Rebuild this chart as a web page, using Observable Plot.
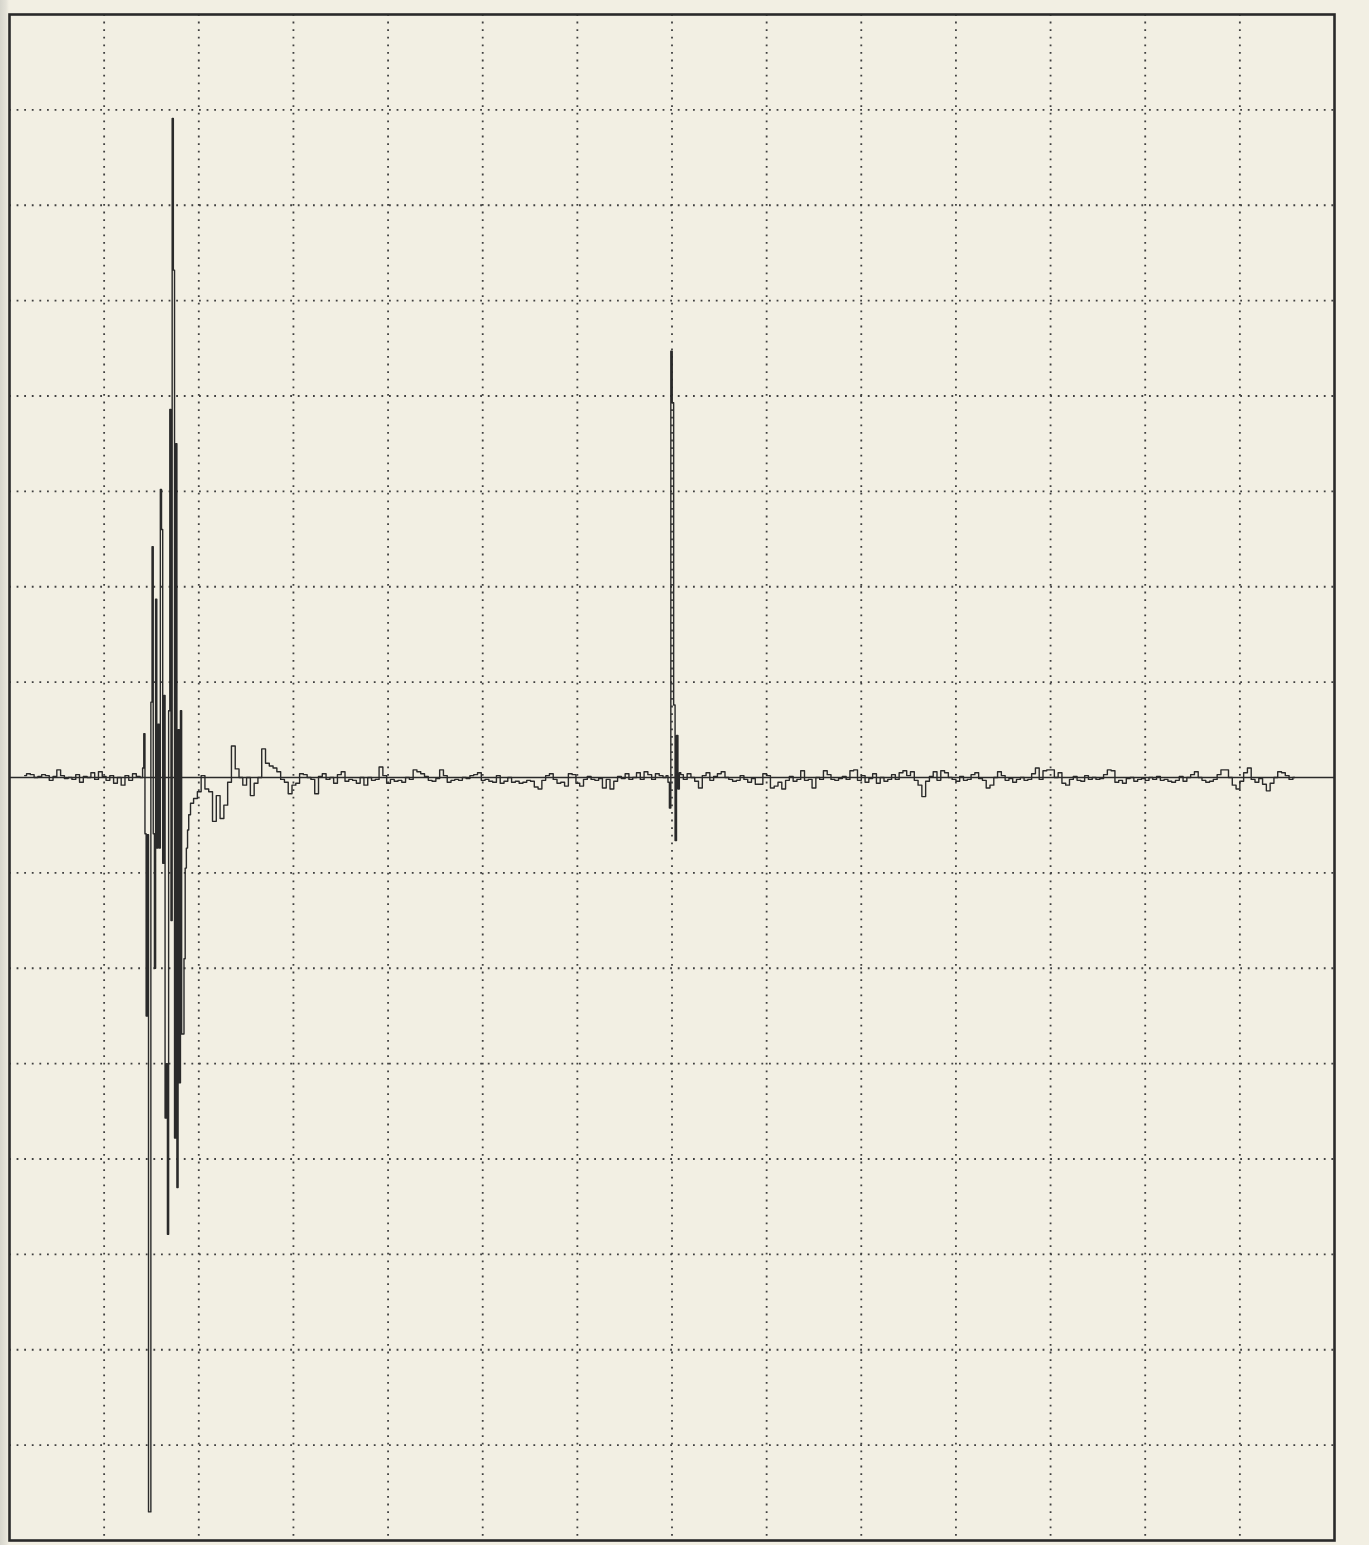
<!DOCTYPE html>
<html>
<head>
<meta charset="utf-8">
<script src="https://cdn.jsdelivr.net/npm/d3@7"></script>
<script src="https://cdn.jsdelivr.net/npm/@observablehq/plot@0.6"></script>
<style>
  html, body { margin: 0; padding: 0; background: #f2efe3; }
  #chart svg { display: block; }
</style>
</head>
<body>
<div id="chart"></div>
<script>
// Grid divisions (chart units: 14 horizontal divisions, 16 vertical divisions, zero in the middle)
const xGrid = [1, 2, 3, 4, 5, 6, 7, 8, 9, 10, 11, 12, 13];
const yGrid = [-7, -6, -5, -4, -3, -2, -1, 1, 2, 3, 4, 5, 6, 7];

// Trace in segments (start, sampling step, values in divisions)
const preStart = 0.16, preStep = 0.04;
const preValues = [0.02, 0.04, 0.03, 0.0, 0.01, 0.03, 0.02, -0.03, 0.01, 0.08,
  0.02, -0.01, 0.0, -0.02, 0.03, -0.05, 0.01, 0.0, 0.05, -0.02,
  0.06, 0.01, -0.03, 0.02, -0.06, 0.0, -0.08, 0.02, -0.03, 0.04, 0.01];

const burstStart = 1.40, burstStep = 0.0125;
const burstValues = [0.0, 0.1, 0.46, -0.59, -2.5, -0.6, -7.70, -7.70, 0.79, 2.42,
  -0.59, -2.0, 1.87, -0.74, 0.56, -0.74, 3.02, 2.6, -0.9, 0.86,
  -3.57, -3.0, -4.79, 0.7, 3.86, -1.5, 6.91, 5.32, -3.78, 3.5,
  -4.30, 0.5, -3.2, 0.7, -2.69, -2.69, -1.9, -0.95, -0.74, -0.55, -0.39];

const postStart = 1.925, postStep = 0.04;
const postValues = [
  -0.27, -0.22, -0.15, 0.02, -0.12, -0.15, -0.46, -0.19, -0.43, -0.29,
  -0.05, 0.33, 0.09, 0.0, -0.08, 0.0, -0.19, -0.06, 0.0, 0.30,
  0.15, 0.12, 0.10, 0.06, -0.02, -0.05, -0.17, -0.08, -0.06, 0.04,
  0.03, 0.0, -0.02, -0.17, 0.01, 0.04, -0.02, 0.0, -0.06, 0.03,
  0.06, -0.04, -0.02, -0.03, -0.06, 0.0, -0.08, 0.0, -0.03, -0.02,
  0.11, 0.02, -0.06, -0.02, -0.04, -0.03, -0.05, 0.0, -0.02, 0.08,
  0.06, 0.04, 0.01, -0.03, -0.04, -0.01, 0.08, 0.02, -0.05, -0.03,
  -0.02, -0.03, 0.0, -0.01, 0.02, 0.03, 0.05, -0.03, -0.02, -0.04,
  -0.05, 0.02, -0.06, -0.04, 0.0, -0.05, -0.04, -0.06, -0.05, -0.03,
  -0.04, -0.10, -0.12, -0.03, 0.02, 0.04, -0.02, -0.06, -0.05, -0.09,
  0.04, 0.03, -0.06, -0.09, -0.02, 0.01, -0.02, -0.03, -0.01, -0.11,
  -0.02, -0.12, -0.04, 0.01, -0.01, 0.04, -0.02, 0.0, 0.05, -0.02,
  0.06, 0.03, -0.02, 0.04, 0.02, 0.0];

const spikeStart = 6.95, spikeStep = 0.015;
const spikeValues = [0.02, -0.05, -0.32, 4.47, 3.93, 0.76, -0.66, 0.44, -0.12, 0.05];

const tailStart = 7.10, tailStep = 0.04;
const tailValues = [
  0.03, -0.02, 0.04, 0.0, -0.04, -0.11, 0.02, 0.05, -0.03, 0.01,
  0.04, 0.06, 0.0, -0.02, -0.04, -0.03, 0.02, -0.02, -0.05, -0.01,
  -0.07, -0.07, 0.04, 0.02, -0.11, -0.09, -0.05, -0.12, -0.03, 0.01,
  -0.04, -0.02, 0.07, -0.03, -0.02, -0.11, 0.0, -0.02, 0.07, 0.03,
  -0.02, -0.03, -0.01, 0.01, -0.02, 0.07, 0.08, -0.03, 0.02, -0.05,
  -0.01, 0.04, -0.06, 0.0, -0.04, -0.02, 0.03, -0.02, 0.05, 0.07,
  0.02, 0.06, -0.03, -0.08, -0.20, -0.04, 0.01, 0.06, -0.03, 0.07,
  0.05, 0.0, -0.02, -0.04, 0.01, -0.03, -0.02, 0.03, 0.05, -0.01,
  -0.03, -0.11, -0.08, 0.0, 0.06, 0.02, -0.03, -0.01, -0.05, -0.02,
  0.0, -0.03, -0.02, 0.04, 0.10, -0.02, 0.07, 0.08, 0.08, 0.0,
  0.05, -0.06, -0.08, -0.02, 0.01, -0.03, -0.04, 0.02, -0.02, 0.0,
  -0.02, -0.01, 0.03, 0.08, 0.07, -0.05, -0.03, -0.06, -0.01, 0.0,
  -0.04, -0.02, -0.01, -0.03, 0.0, -0.02, 0.01, -0.03, -0.02, -0.04,
  -0.05, -0.03, 0.01, -0.04, 0.0, 0.03, 0.06, 0.0, -0.03, -0.05,
  -0.04, -0.02, 0.03, 0.08, 0.08, 0.0, -0.08, -0.12, -0.04, 0.05,
  0.10, -0.02, -0.05, -0.01, -0.07, -0.14, -0.06, 0.0, 0.06, 0.05,
  0.02, -0.02, 0.0];

function segment(start, step, values) {
  return values.map((v, i) => ({ t: start + i * step, v }));
}

const trace = [
  ...segment(preStart, preStep, preValues),
  ...segment(burstStart, burstStep, burstValues),
  ...segment(postStart, postStep, postValues),
  ...segment(spikeStart, spikeStep, spikeValues),
  ...segment(tailStart, tailStep, tailValues)
];

const ink = "#2a2a2a";
const gridInk = "#3f3f3f";

const chart = Plot.plot({
  width: 1369,
  height: 1545,
  marginLeft: 9,
  marginRight: 35,
  marginTop: 14,
  marginBottom: 5,
  x: { domain: [0, 14], axis: null },
  y: { domain: [-8, 8], axis: null },
  style: { background: "linear-gradient(to right, #d6d5cc 0px, #e4e2d8 6px, #f2efe3 9px, #f2efe3 100%)" },
  marks: [
    Plot.ruleX(xGrid, { stroke: gridInk, strokeWidth: 1.8, strokeDasharray: "1.8,5.8" }),
    Plot.ruleY(yGrid, { stroke: gridInk, strokeWidth: 1.8, strokeDasharray: "1.8,5.8" }),
    Plot.ruleY([0], { stroke: ink, strokeWidth: 1.5 }),
    Plot.line(trace, { x: "t", y: "v", curve: "step", stroke: ink, strokeWidth: 1.4 }),
    Plot.frame({ stroke: ink, strokeWidth: 2.6 })
  ]
});

document.getElementById("chart").appendChild(chart);
</script>
</body>
</html>
